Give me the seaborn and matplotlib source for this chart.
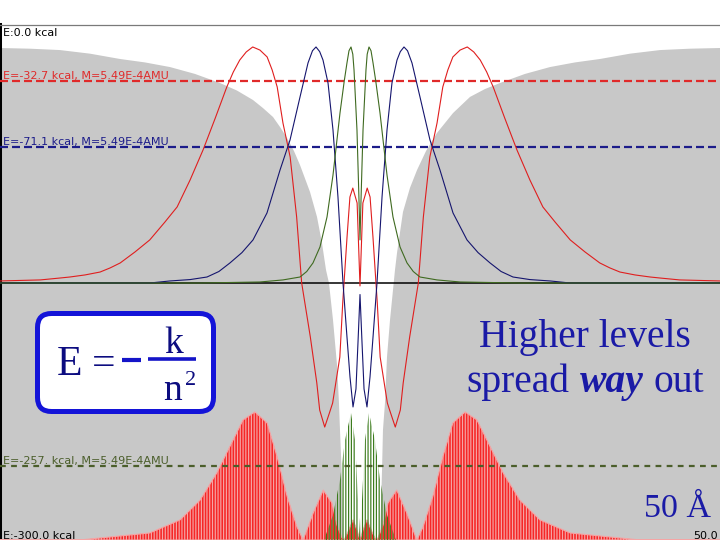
import numpy as np
import matplotlib
matplotlib.use("Agg")
import matplotlib.pyplot as plt
import seaborn as sns
from matplotlib.patches import FancyBboxPatch

sns.set_theme(style="white")
plt.rcParams["font.family"] = ["DejaVu Sans"]
plt.rcParams["hatch.linewidth"] = 0.85

# ---------------- data (x in Angstrom, energies in kcal) ----------------
pot_x = [-50.0, -45.83, -41.67, -37.5, -33.33, -29.86, -26.39, -22.92, -19.44, -17.08,
         -14.86, -13.47, -12.08, -11.11, -10.14, -9.17, -8.33, -6.94,
         -5.97, -5.28, -4.72, -4.31, -3.75, -3.19, -2.92, -2.78, -2.50, -2.36,
         2.78, 3.06, 3.19, 3.47, 3.75, 4.17, 4.86, 5.14, 5.97, 6.94,
         7.92, 9.17, 10.69, 12.92, 15.28, 17.36, 19.44, 22.92, 26.39, 29.86, 33.33, 37.5,
         41.67, 45.83, 50.0]
pot_E = [-13.4, -13.8, -14.6, -16.7, -19.8, -21.8, -24.5, -28.5, -33.8, -38.2,
         -43.7, -48.4, -53.6, -59.4, -65.8, -73.4, -81.6, -97.3,
         -111.8, -127.0, -142.7, -150.3, -171.8, -198.1, -220.2, -235.9, -265.0, -300.0,
         -300.0, -259.2, -235.9, -220.2, -193.4, -171.8, -142.7, -132.8, -108.9, -94.9,
         -84.5, -73.4, -62.9, -51.3, -41.9, -37.3, -33.8, -28.5, -24.5, -21.8, -19.8, -16.7,
         -14.6, -13.8, -13.4]

baseline_E = -150.3

red_left_x = [-50.0, -44.4, -41.7, -40.3, -38.2, -36.1, -34.7, -33.3, -31.25, -29.2, -27.1,
              -25.4, -23.6, -21.8, -20.1, -18.5, -17.6, -16.7, -15.8, -14.9, -13.9, -12.9,
              -12.2, -11.5, -10.7, -9.7, -8.8, -8.1, -6.9, -6.0, -5.6, -4.9, -4.2, -3.8,
              -2.8, -2.4, -1.8, -1.4, -1.0, -0.4]
red_left_E = [-149.1, -148.5, -147.4, -146.8, -145.6, -143.9, -141.5, -138.6, -132.2, -125.2,
              -114.8, -106.0, -90.3, -72.8, -54.2, -36.1, -27.4, -20.4, -15.7, -12.8, -14.6,
              -18.6, -26.2, -36.1, -57.1, -76.9, -111.8, -150.3, -181.7, -208.5, -224.3,
              -234.2, -225.4, -220.2, -193.4, -161.9, -123.5, -100.2, -95.0, -103.7]
red_center_E = -152.0
red_x = red_left_x + [0.0] + [-v for v in red_left_x[::-1]]
red_E = red_left_E + [red_center_E] + red_left_E[::-1]

blue_left_x = [-50.0, -29.2, -26.4, -23.6, -21.25, -19.6, -18.06, -16.4, -14.86, -12.92,
               -11.11, -9.72, -8.33, -7.22, -6.6, -6.11, -5.6, -5.14, -4.44, -3.75, -3.06,
               -2.36, -1.81, -1.39, -0.97, -0.56, -0.28]
blue_left_E = [-150.3, -150.3, -149.1, -148.3, -146.8, -143.6, -138.6, -132.6, -125.2, -109.5,
               -84.5, -67.0, -41.9, -22.1, -15.0, -12.8, -15.5, -20.4, -33.8, -61.2, -100.2,
               -150.3, -181.7, -205.0, -222.5, -212.0, -185.0]
blue_center_E = -157.0
blue_x = blue_left_x + [0.0] + [-v for v in blue_left_x[::-1]]
blue_E = blue_left_E + [blue_center_E] + blue_left_E[::-1]

green_left_x = [-50.0, -22.2, -13.9, -10.7, -8.33, -7.4, -6.53, -5.56, -4.58, -3.75, -2.78,
                -2.2, -1.81, -1.53, -1.25, -1.0, -0.83, -0.42, -0.14]
green_left_E = [-150.3, -150.3, -149.7, -148.5, -146.8, -143.6, -138.6, -129.3, -111.8, -87.4,
                -51.3, -33.0, -22.1, -15.0, -12.8, -17.0, -26.2, -61.2, -101.9]
green_center_E = -125.2
green_x = green_left_x + [0.0] + [-v for v in green_left_x[::-1]]
green_E = green_left_E + [green_center_E] + green_left_E[::-1]

# probability density (red state) drawn from the -300 kcal floor
rd_left_x = [-50.0, -38.9, -36.1, -29.2, -25.0, -22.2, -19.9, -18.1, -16.25, -14.6, -12.9,
             -11.5, -10.1, -8.75, -7.9, -6.5, -5.1, -3.9, -3.2, -2.5, -2.2, -1.67, -0.97, -0.42]
rd_left_E = [-300.0, -300.0, -298.8, -295.9, -288.3, -276.7, -261.0, -245.8, -230.1, -225.4,
             -231.8, -251.6, -274.9, -292.4, -300.0, -284.3, -270.9, -278.4, -291.3, -298.8,
             -300.0, -295.3, -288.3, -294.2]
rd_x = rd_left_x + [0.0] + [-v for v in rd_left_x[::-1]]
rd_E = rd_left_E + [-300.0] + rd_left_E[::-1]

# probability density (green state)
gd_left_x = [-5.0, -3.75, -2.78, -2.08, -1.25, -0.69, -0.28]
gd_left_E = [-300.0, -285.4, -265.0, -241.7, -226.0, -241.7, -276.7]
gd_x = gd_left_x + [0.0] + [-v for v in gd_left_x[::-1]]
gd_E = gd_left_E + [-297.1] + gd_left_E[::-1]

levels_E = [-32.7, -71.1, -257.0]
level_labels = ["E=-32.7 kcal, M=5.49E-4AMU", "E=-71.1 kcal, M=5.49E-4AMU",
                "E=-257. kcal, M=5.49E-4AMU"]
level_colors = ["#e02a2a", "#1c1c8a", "#4b5e2b"]
level_dashes = [(3.6, 1.8), (3.6, 1.8), (2.6, 2.4)]

# ---------------- figure ----------------
fig = plt.figure(figsize=(7.2, 5.4), dpi=100, facecolor="white")
ax = fig.add_axes([0, 0, 1, 515 / 540])
ax.set_facecolor("white")
ax.set_xlim(-50, 50)
ax.set_ylim(-300, 0)
ax.set_xticks([])
ax.set_yticks([])
for s in ["bottom", "right"]:
    ax.spines[s].set_visible(False)
ax.spines["left"].set_color("black")
ax.spines["left"].set_linewidth(2.9)
ax.spines["top"].set_color("#7a7a7a")
ax.spines["top"].set_linewidth(0.9)

# potential (grey = below potential curve)
ax.fill_between(pot_x, pot_E, -300, color="#c8c8c8", lw=0, zorder=1)

# probability densities
ax.fill_between(rd_x, rd_E, -300, facecolor="#f62626", edgecolor="#f5a5a5",
                hatch="||||||", lw=0.8, zorder=3)
ax.fill_between(gd_x, gd_E, -300, facecolor="none", edgecolor="#3a7a1a",
                hatch="||||||", lw=0, zorder=4)

# wavefunction baseline
ax.axhline(baseline_E, color="black", lw=1.1, zorder=2)

# energy levels
for E, lab, c, d in zip(levels_E, level_labels, level_colors, level_dashes):
    ax.axhline(E, color=c, lw=1.6, linestyle=(0, d), zorder=5)
    ax.text(-49.6, E + 1.4, lab, color=c, fontsize=8, va="baseline", ha="left", zorder=8)

# wavefunctions
sns.lineplot(x=np.array(red_x), y=np.array(red_E), ax=ax, color="#e01e1e", lw=0.8,
             estimator=None, sort=False, zorder=6)
sns.lineplot(x=np.array(blue_x), y=np.array(blue_E), ax=ax, color="#15156e", lw=0.8,
             estimator=None, sort=False, zorder=6)
sns.lineplot(x=np.array(green_x), y=np.array(green_E), ax=ax, color="#3f6a20", lw=0.8,
             estimator=None, sort=False, zorder=6)

ax.text(-49.6, -1.6, "E:0.0 kcal", color="black", fontsize=8, va="top", ha="left")
ax.text(-49.6, -299.3, "E:-300.0 kcal", color="black", fontsize=8, va="baseline", ha="left")
ax.text(49.7, -299.3, "50.0", color="black", fontsize=8, va="baseline", ha="right")
ax.set_xlabel("")
ax.set_ylabel("")

# ---------------- overlay annotations (pixel space) ----------------
ov = fig.add_axes([0, 0, 1, 1], zorder=10)
ov.set_xlim(0, 720)
ov.set_ylim(540, 0)
ov.axis("off")

serif = "Liberation Serif"
box = FancyBboxPatch((37.5, 313.5), 176, 98, boxstyle="round,pad=0,rounding_size=14",
                     lw=3.6, edgecolor="#1414d8", facecolor="white", zorder=1)
ov.add_patch(box)
eqc = "#0c0c80"
ov.text(57, 375, "E", fontsize=30, family=serif, color=eqc, va="baseline", ha="left", zorder=2)
ov.text(104, 375, "=", fontsize=30, family=serif, color=eqc, va="baseline", ha="center", zorder=2)
ov.plot([122, 141], [360, 360], color="#1414c8", lw=3.0, solid_capstyle="butt", zorder=2)
ov.plot([148, 196], [359, 359], color="#1414c8", lw=2.6, solid_capstyle="butt", zorder=2)
ov.text(174, 353, "k", fontsize=27, family=serif, color=eqc, va="baseline", ha="center", zorder=2)
ov.text(173, 400, "n", fontsize=27, family=serif, color=eqc, va="baseline", ha="center", zorder=2)
ov.text(185.5, 385, "2", fontsize=16, family=serif, color=eqc, va="baseline", ha="left", zorder=2)

txtc = "#1a1aa6"
ov.text(585, 347, "Higher levels", fontsize=28.5, family=serif, color=txtc,
        va="baseline", ha="center")
parts = [("spread", "normal", "normal"), ("way", "bold", "italic"), ("out", "normal", "normal")]
texts = [ov.text(0, 392, s, fontsize=28.5, family=serif, fontweight=w, fontstyle=st,
                 color=txtc, va="baseline", ha="left") for s, w, st in parts]
fig.canvas.draw()
r = fig.canvas.get_renderer()
widths = [t.get_window_extent(r).width for t in texts]
space = 0.25 * 28.5 * 100 / 72
xpos = 585.5 - (sum(widths) + 2 * space) / 2
for t, w in zip(texts, widths):
    t.set_x(xpos)
    xpos += w + space

ov.text(677.5, 517, "50 Å", fontsize=24.5, family=serif, color=txtc, va="baseline", ha="center")

fig.savefig("out.png", dpi=100, facecolor="white")
